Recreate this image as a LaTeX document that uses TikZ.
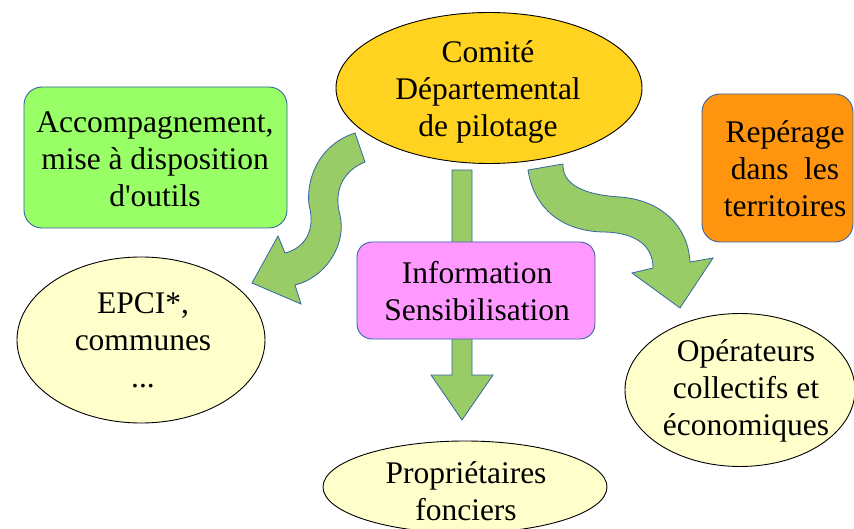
\documentclass[tikz,border=0pt]{standalone}
\usepackage{fontspec}
\setmainfont{Liberation Serif}
\usetikzlibrary{shapes.geometric}
\definecolor{cyellow}{HTML}{FFD320}
\definecolor{cgreen}{HTML}{99FF66}
\definecolor{corange}{HTML}{FF950E}
\definecolor{cpink}{HTML}{FF99FF}
\definecolor{clight}{HTML}{FFFFCC}
\definecolor{carrow}{HTML}{99CC66}
\definecolor{cblue}{HTML}{3465A4}
\tikzset{
  oval/.style={ellipse, draw=black, line width=0.9pt, inner sep=0pt},
  rbox/.style={rectangle, rounded corners=18pt, draw=cblue, line width=0.9pt, inner sep=0pt},
  lbl/.style={align=center, inner sep=0pt, font=\fontsize{31.5}{37}\selectfont},
  blockarrow/.style={fill=carrow, draw=cblue, line width=0.8pt, line join=miter}
}
\begin{document}
\begin{tikzpicture}[x=1pt,y=-1pt]
\useasboundingbox[fill=white] (0,0) rectangle (854,529);
% block arrows
\draw[blockarrow] (355,133) -- (365,162) .. controls (340,172) and (334,195) .. (340,215)
  .. controls (347,245) and (325,278) .. (295,285) -- (301,304) -- (252,283) -- (278,236) -- (285,253)
  .. controls (305,248) and (316,230) .. (309,205) .. controls (306,180) and (318,145) .. (355,133) -- cycle;
\draw[blockarrow] (528,170) .. controls (535,215) and (570,232) .. (605,232)
  .. controls (635,233) and (653,245) .. (653,268) -- (632,273) -- (680,308) -- (713,258) -- (690,262)
  .. controls (688,225) and (660,200) .. (620,197) .. controls (585,195) and (562,185) .. (563,164) -- cycle;
\draw[blockarrow] (452,170) -- (472,170) -- (472,375) -- (493,375) -- (462,420) -- (431,375) -- (452,375) -- cycle;
% shapes
\node[oval, fill=cyellow, minimum width=306pt, minimum height=151pt] (comite) at (489,88) {};
\node[rbox, fill=cgreen, minimum width=263pt, minimum height=141pt] (accomp) at (155.5,157.5) {};
\node[rbox, fill=corange, minimum width=151pt, minimum height=148pt] (reperage) at (777.5,168) {};
\node[rbox, fill=cpink, rounded corners=15pt, minimum width=238pt, minimum height=97pt] (info) at (476,290.5) {};
\node[oval, fill=clight, minimum width=248pt, minimum height=166pt] (epci) at (141,340) {};
\node[oval, fill=clight, minimum width=230pt, minimum height=153pt] (oper) at (740,390) {};
\node[oval, fill=clight, minimum width=284pt, minimum height=92pt] (proprio) at (465,487) {};
% texts (anchor=base is the last line's baseline)
\node[lbl, anchor=base] (comiteT) at (488,137) {Comité\\Départemental\\de pilotage};
\node[lbl, anchor=base] (accompT) at (155,207) {Accompagnement,\\mise à disposition\\d\textquotesingle outils};
\node[lbl, anchor=base] (reperageT) at (785,217) {Repérage\\dans\ \ les\\territoires};
\node[lbl, anchor=base] (infoT) at (477,320) {Information\\Sensibilisation};
\node[lbl, anchor=base] (epciT) at (143,387) {EPCI*,\\communes\\...};
\node[lbl, anchor=base] (operT) at (746,435) {Opérateurs\\collectifs et\\économiques};
\node[lbl, anchor=base] (proprioT) at (466,520) {Propriétaires\\fonciers};
\end{tikzpicture}
\end{document}
